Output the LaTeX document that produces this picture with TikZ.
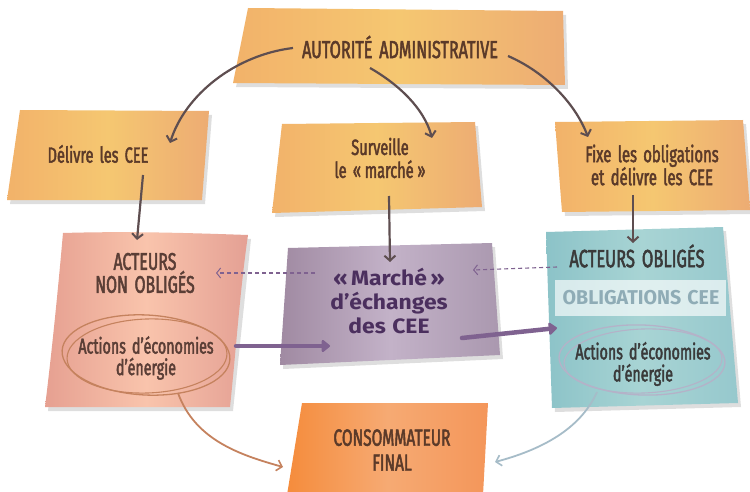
\documentclass[tikz,border=0pt]{standalone}
\usepackage{fontspec}
\setmainfont[FakeStretch=0.66,WordSpace=1.6,FakeBold=2]{Fira Sans}
\newfontfamily\boldfam[FakeStretch=1.1,WordSpace=1.2]{Fira Sans}
\newfontfamily\boldfamB[FakeStretch=0.98,WordSpace=1.3]{Fira Sans}
\usetikzlibrary{arrows.meta,calc}
\definecolor{brn}{HTML}{5B3A29}
\definecolor{arr}{HTML}{5E4E50}
\definecolor{pur}{HTML}{7F6290}
\definecolor{purtxt}{HTML}{4B2F5E}
\definecolor{cop}{HTML}{C5825E}
\definecolor{blu}{HTML}{A6BCC8}
\definecolor{tealtxt}{HTML}{3A3A3A}
\definecolor{pinktxt}{HTML}{5A3E36}
\definecolor{obltxt}{HTML}{8FACB6}
\definecolor{ell2}{HTML}{B4B2C8}
\definecolor{oL}{HTML}{F2B26A}
\definecolor{oM}{HTML}{F5C771}
\definecolor{oR}{HTML}{EDAC73}
\definecolor{pL}{HTML}{E6A091}
\definecolor{pM}{HTML}{F9C4AC}
\definecolor{pR}{HTML}{E4A094}
\definecolor{uL}{HTML}{A08AA2}
\definecolor{uM}{HTML}{C3B2C8}
\definecolor{uR}{HTML}{AA98AF}
\definecolor{tL}{HTML}{8CC3C8}
\definecolor{tM}{HTML}{A8D4D4}
\definecolor{tR}{HTML}{96C8CD}
\definecolor{cL}{HTML}{F58C3C}
\definecolor{cM}{HTML}{F6AA73}
\definecolor{cR}{HTML}{F4965A}
\tikzset{
  shad/.style={fill=black,opacity=0.13},
  obox/.style={left color=oL, right color=oR, middle color=oM},
  txt/.style={text=brn,align=center,inner sep=0pt},
  darrow/.style={draw=arr,line width=2.2pt,-{Straight Barb[length=5pt,width=11pt,line width=2pt]}},
  dasharrow/.style={draw=pur,line width=1.1pt,dash pattern=on 4pt off 3pt,-{Straight Barb[length=4pt,width=10pt,line width=1pt]}},
  thickarrow/.style={draw=pur,line width=4.5pt,line cap=round,-{Triangle[length=9pt,width=14pt,round]}},
}
\begin{document}
\begin{tikzpicture}[x=1pt,y=-1pt]
\useasboundingbox (0,0) rectangle (750,492);
\fill[white] (0,0) rectangle (750,492);
% shadows
\fill[shad] (251,12) -- (566,15) -- (568,89) -- (236,87) -- cycle;
\fill[shad] (23,114) -- (212,115) -- (205,204) -- (10,204) -- cycle;
\fill[shad] (285,128) -- (478,126) -- (485,211) -- (275,217) -- cycle;
\fill[shad] (558,126) -- (746,124) -- (753,214) -- (565,216) -- cycle;
\fill[shad] (66,237) -- (251,239) -- (233,411) -- (48,411) -- cycle;
\fill[shad] (291,252) -- (495,247) -- (503,359) -- (283,369) -- cycle;
\fill[shad] (549,236) -- (726,231) -- (741,407) -- (555,412) -- cycle;
% boxes
\shade[obox] (248,8) -- (563,11) -- (565,85) -- (233,83) -- cycle;
\shade[obox] (20,110) -- (209,111) -- (202,200) -- (7,200) -- cycle;
\shade[obox] (282,124) -- (475,122) -- (482,207) -- (272,213) -- cycle;
\shade[obox] (555,122) -- (743,120) -- (750,210) -- (562,212) -- cycle;
\shade[left color=pL, right color=pR, middle color=pM]
  (63,233) .. controls (130,231) and (190,233) .. (248,235) .. controls (240,290) and (236,350) .. (230,407)
  -- (45,407) .. controls (52,350) and (58,290) .. (63,233) -- cycle;
\shade[left color=uL, right color=uR, middle color=uM]
  (288,248) -- (492,243) -- (500,355) -- (280,365) -- cycle;
\shade[left color=tL, right color=tR, middle color=tM]
  (546,232) -- (723,227) -- (738,403) -- (552,408) -- cycle;
\shade[left color=cL, right color=cR, middle color=cM]
  (302,403) -- (488,403) -- (483,495) -- (287,495) -- cycle;
% white band
\fill[white,opacity=0.65] (555,280) rectangle (726,316);
% ellipses
\draw[cop,line width=1.3pt] (146,355) ellipse [x radius=84, y radius=40, rotate=-3];
\draw[cop,line width=1.1pt] (147,356) ellipse [x radius=80, y radius=37, rotate=2];
\draw[ell2,line width=1.3pt] (642,360) ellipse [x radius=83, y radius=35, rotate=-2];
\draw[ell2,line width=1.1pt] (643,361) ellipse [x radius=79, y radius=32, rotate=2];
% texts
\node[txt,font=\fontsize{24.5}{28}\selectfont] (aut) at (400,47) {AUTORITÉ ADMINISTRATIVE};
\node[txt,font=\fontsize{22}{24}\selectfont] (del) at (98,154) {Délivre les CEE};
\node[txt,font=\fontsize{22}{23}\selectfont] (sur) at (380,158) {Surveille\\le «\,marché\,»};
\node[txt,font=\fontsize{22.5}{23}\selectfont] (fix) at (652,165) {Fixe les obligations\\et délivre les CEE};
\node[txt,text=pinktxt,font=\fontsize{24}{23}\selectfont] (nonobl) at (145,273) {ACTEURS\\NON OBLIGÉS};
\node[txt,text=pinktxt,font=\fontsize{21.6}{21.5}\selectfont] (act1) at (146,358) {Actions d’économies\\d’énergie};
\node[txt,text=purtxt,font=\boldfam\bfseries\fontsize{20.8}{24}\selectfont] (marche) at (389,301) {«\,Marché\,»\\d’échanges\\des CEE};
\node[txt,text=tealtxt,font=\fontsize{25}{26}\selectfont] (obl) at (637,256) {ACTEURS OBLIGÉS};
\node[txt,text=obltxt,font=\boldfamB\bfseries\fontsize{20}{24}\selectfont] (oblcee) at (641,298) {OBLIGATIONS CEE};
\node[txt,text=tealtxt,font=\fontsize{21.6}{22}\selectfont] (act2) at (643,364) {Actions d’économies\\d’énergie};
\node[txt,font=\fontsize{23.5}{25}\selectfont] (cons) at (392,450) {CONSOMMATEUR\\FINAL};
% connector endpoints
\coordinate (a1s) at (293,48); \coordinate (a1e) at (170,143);
\coordinate (a2s) at (370,68); \coordinate (a2e) at (432,138);
\coordinate (a3s) at (508,56); \coordinate (a3e) at (588,137);
\coordinate (a4s) at (143,175); \coordinate (a4e) at (137,240);
\coordinate (a5s) at (389,196); \coordinate (a5e) at (390,262);
\coordinate (a6s) at (633,195); \coordinate (a6e) at (633,243);
\coordinate (d1s) at (315,273); \coordinate (d1e) at (216,273);
\coordinate (d2s) at (557,267); \coordinate (d2e) at (473,270);
\coordinate (t1s) at (236,346); \coordinate (t1e) at (330,346);
\coordinate (t2s) at (462,338); \coordinate (t2e) at (557,328);
\coordinate (c1s) at (178,393); \coordinate (c1e) at (283,467);
\coordinate (c2s) at (597,392); \coordinate (c2e) at (495,462);
% connectors
\draw[darrow] (a1s) .. controls (235,55) and (185,95) .. (a1e);
\draw[darrow] (a2s) .. controls (398,84) and (424,108) .. (a2e);
\draw[darrow] (a3s) .. controls (545,72) and (575,103) .. (a3e);
\draw[darrow] (a4s) -- (a4e);
\draw[darrow] (a5s) -- (a5e);
\draw[darrow] (a6s) -- (a6e);
\draw[dasharrow] (d1s) -- (d1e);
\draw[dasharrow] (d2s) -- (d2e);
\draw[thickarrow] (t1s) -- (t1e);
\draw[thickarrow] (t2s) -- (t2e);
\draw[cop,line width=1.8pt,-{Straight Barb[length=5pt,width=11pt,line width=1.6pt]}] (c1s) .. controls (195,440) and (240,455) .. (c1e);
\draw[blu,line width=1.8pt,-{Straight Barb[length=5pt,width=11pt,line width=1.6pt]}] (c2s) .. controls (580,430) and (540,450) .. (c2e);
\end{tikzpicture}
\end{document}
